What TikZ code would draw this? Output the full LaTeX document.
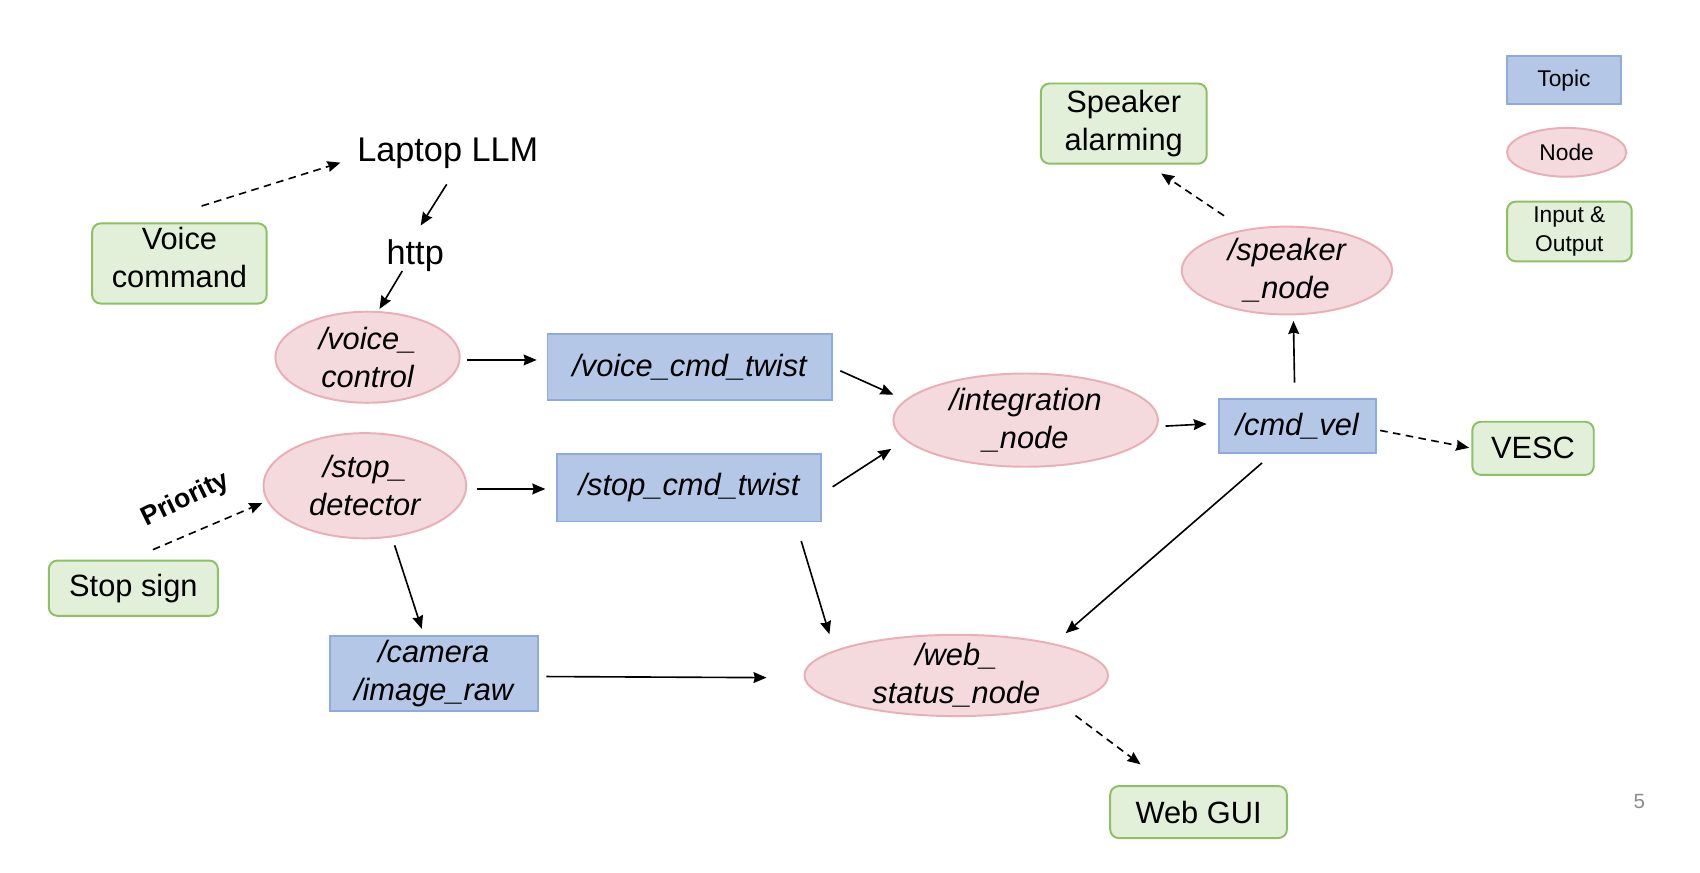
\documentclass[tikz,border=0pt]{standalone}
\usepackage{fontspec}
\setmainfont{Liberation Sans}
\usetikzlibrary{shapes.geometric,arrows.meta,calc}
\definecolor{topicfill}{HTML}{B4C7E7}
\definecolor{topicline}{HTML}{8FAADC}
\definecolor{nodefill}{HTML}{F4DADD}
\definecolor{nodeline}{HTML}{E9AEB6}
\definecolor{iofill}{HTML}{E2F0D9}
\definecolor{ioline}{HTML}{8CC063}
\definecolor{pagegray}{HTML}{8C8C8C}
\tikzset{
 topic/.style={draw=topicline, fill=topicfill, line width=0.9pt, inner sep=0pt, align=center, font=\fontsize{14.2}{17.5}\selectfont\itshape},
 rosnode/.style={ellipse, draw=nodeline, fill=nodefill, line width=0.9pt, inner xsep=0pt, inner ysep=-3pt, align=center, font=\fontsize{14.2}{17.5}\selectfont\itshape},
 iobox/.style={draw=ioline, fill=iofill, line width=0.9pt, rounded corners=4pt, inner sep=0pt, align=center, font=\fontsize{14.2}{17.5}\selectfont},
 plaintext/.style={inner sep=0pt, font=\fontsize{15.8}{18}\selectfont},
 legendfont/.style={font=\fontsize{10.5}{13}\selectfont},
 arr/.style={-{Stealth[length=6pt,width=5pt,inset=0.6pt]}, line width=0.75pt},
 darr/.style={arr, dash pattern=on 3.5pt off 2.5pt},
}
\begin{document}
\begin{tikzpicture}[x=0.5pt,y=-0.5pt]
\useasboundingbox (0,0) rectangle (1568,805);
\fill[white] (0,0) rectangle (1568,805);
% nodes
\node[iobox, minimum width=80.5pt, minimum height=37pt] (vc) at (165.5,243) {Voice\\command\strut};
\node[plaintext] (llm) at (413,141) {Laptop LLM};
\node[plaintext] (http) at (383,236) {http};
\node[rosnode, minimum width=85pt, minimum height=42pt] (vctl) at (339,329.5) {/voice\_\\control};
\node[topic, minimum width=131pt, minimum height=30.5pt] (vct) at (636,338.5) {/voice\_cmd\_twist};
\node[rosnode, minimum width=93.5pt, minimum height=48.5pt] (sd) at (336.5,448) {/stop\_\\detector};
\node[topic, minimum width=121.5pt, minimum height=31pt] (sct) at (635.5,450) {/stop\_cmd\_twist};
\node[iobox, minimum width=78pt, minimum height=25.5pt] (ss) at (123,542.5) {Stop sign};
\node[topic, minimum width=96pt, minimum height=34.5pt] (cam) at (400,621.5) {/camera\\/image\_raw};
\node[rosnode, minimum width=122pt, minimum height=43pt] (integ) at (946,387.5) {/integration\\\_node};
\node[rosnode, minimum width=140pt, minimum height=37.5pt] (web) at (882,623) {/web\_\\status\_node};
\node[topic, minimum width=72.5pt, minimum height=25pt] (cv) at (1196.5,393) {/cmd\_vel};
\node[iobox, minimum width=56pt, minimum height=24.5pt] (vesc) at (1414,413.5) {VESC};
\node[rosnode, minimum width=97pt, minimum height=40.5pt] (spk) at (1187,249.5) {/speaker\\\_node};
\node[iobox, minimum width=76.5pt, minimum height=37pt] (sa) at (1036.5,114) {Speaker\\alarming};
\node[iobox, minimum width=81.5pt, minimum height=24pt] (gui) at (1105.5,749) {Web GUI};
% legend
\node[topic, legendfont, minimum width=52.5pt, minimum height=22pt] (lt) at (1442.5,74) {Topic};
\node[rosnode, legendfont, minimum width=55pt, minimum height=22.5pt] (ln) at (1445,140.5) {Node};
\node[iobox, legendfont, minimum width=57.5pt, minimum height=27.5pt] (lio) at (1447.5,213.5) {Input \&\\Output};
\node[font=\fontsize{9.5}{11}\selectfont, text=pagegray] (pg) at (1512,739) {5};
\node[font=\bfseries\fontsize{12.3}{14}\selectfont, rotate=26] (prio) at (171,461) {Priority};
% connectors
\draw[darr] ($(vc)+(20.5,-53)$) -- ($(llm)+(-99,9)$);
\draw[arr] ($(llm)+(-1,29)$) -- ($(http)+(5,-28)$);
\draw[arr] ($(http)+(-12,14)$) -- ($(vctl)+(11,-44.5)$);
\draw[arr] ($(vctl)+(92,2.5)$) -- ($(vct)+(-141,-6.5)$);
\draw[arr] ($(vct)+(139,3.5)$) -- ($(integ)+(-122,-23.5)$);
\draw[arr] ($(sct)+(132.5,-1)$) -- ($(integ)+(-124,26.5)$);
\draw[arr] ($(sd)+(103.5,3)$) -- ($(sct)+(-132.5,1)$);
\draw[darr] ($(ss)+(18,-35.5)$) -- ($(sd)+(-94.5,16)$);
\draw[arr] ($(sd)+(27.5,55)$) -- ($(cam)+(-11,-41.5)$);
\draw[arr] ($(cam)+(104,2.5)$) -- ($(web)+(-175,2)$);
\draw[arr] ($(sct)+(103.5,49)$) -- ($(web)+(-117,-38)$);
\draw[arr] ($(cv)+(-32.5,34)$) -- ($(web)+(101,-39)$);
\draw[arr] ($(integ)+(129,5.5)$) -- ($(cv)+(-83.5,-2)$);
\draw[darr] ($(cv)+(76.5,4)$) -- ($(vesc)+(-59,-0.5)$);
\draw[arr] ($(cv)+(-2.5,-40)$) -- ($(spk)+(6,46.5)$);
\draw[darr] ($(spk)+(-58,-50.5)$) -- ($(sa)+(34.5,46)$);
\draw[darr] ($(web)+(110,37)$) -- ($(gui)+(-53.5,-44)$);
\end{tikzpicture}
\end{document}
